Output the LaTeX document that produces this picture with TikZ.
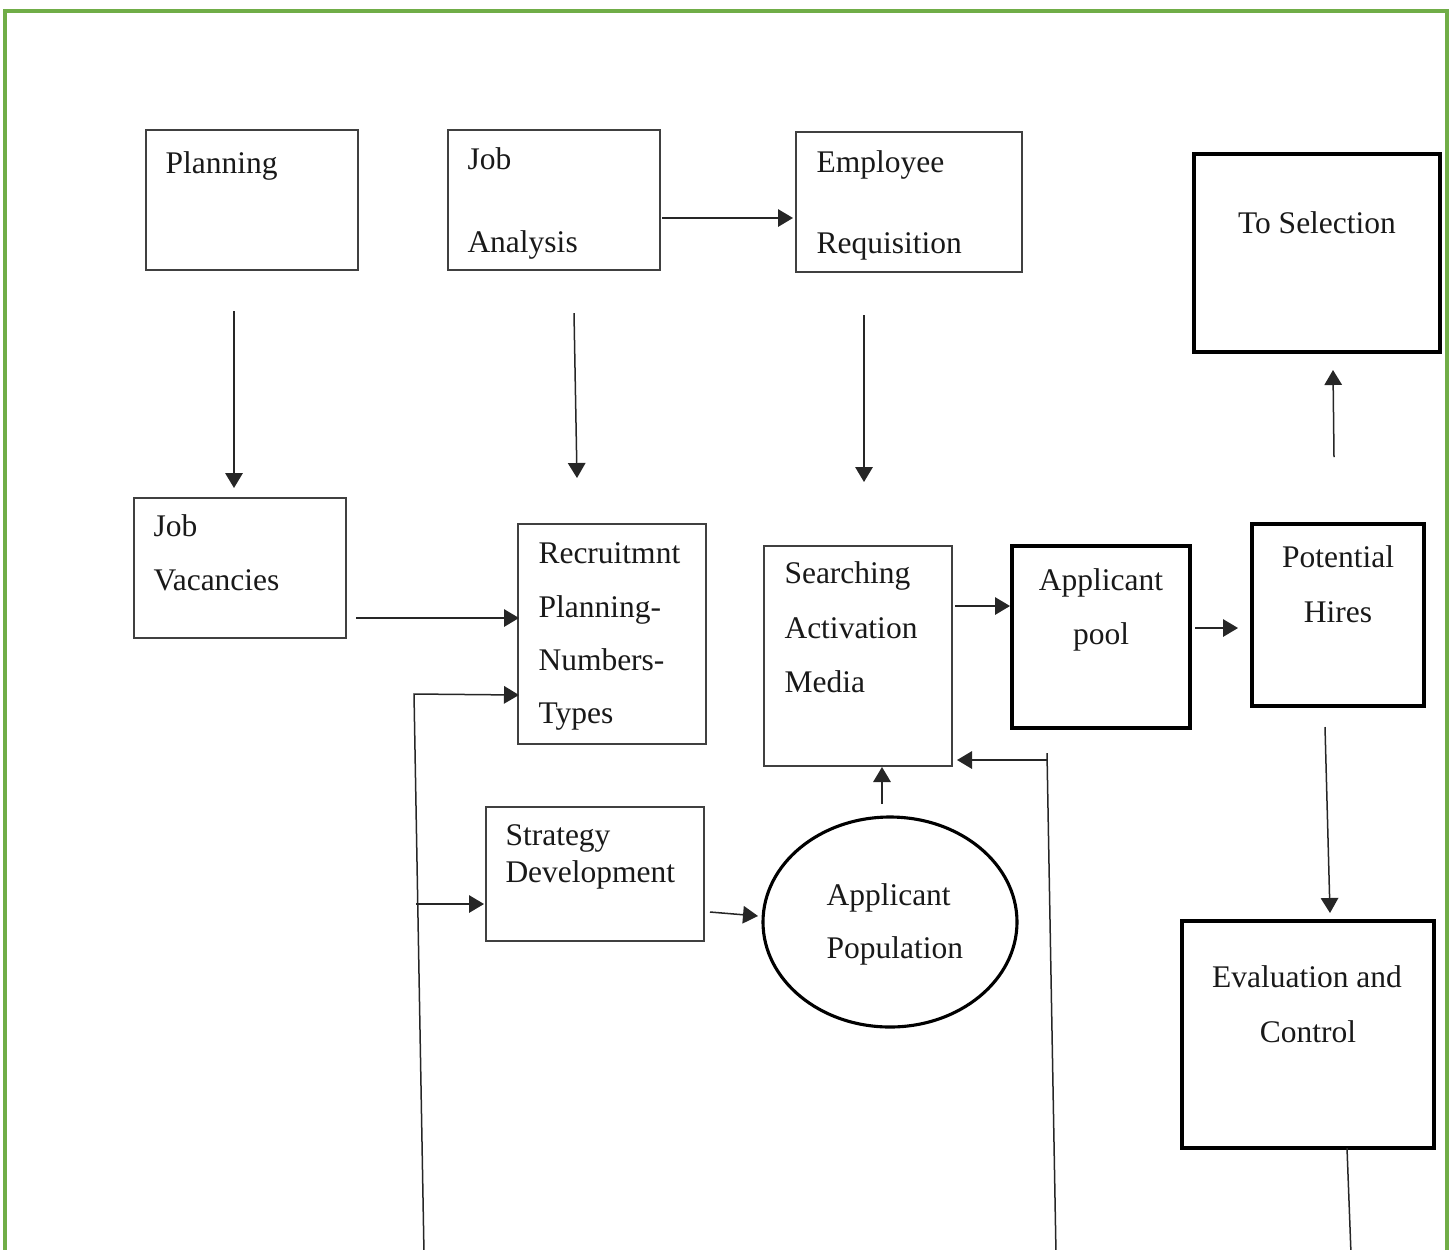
\documentclass[tikz,border=0pt]{standalone}
\usepackage{fontspec}
\setmainfont{Liberation Serif}
\usetikzlibrary{arrows.meta,fit,shapes.geometric}
\definecolor{framegreen}{HTML}{70AD47}
\definecolor{boxgray}{HTML}{404040}
\begin{document}
\begin{tikzpicture}[x=0.4pt,y=-0.4pt,
  box/.style={draw=boxgray,line width=0.55pt,inner sep=0pt},
  heavybox/.style={draw=black,line width=1.25pt,inner sep=0pt},
  txt/.style={inner sep=0pt,anchor=base west,font=\fontsize{12.6}{15}\selectfont,text=black!90},
  ctxt/.style={txt,anchor=base},
  link/.style={draw=black!85,line width=0.6pt},
  arr/.style={link,-{Triangle[length=6pt,width=7pt]}},
  frame/.style={draw=framegreen,line width=1.3pt}]
\useasboundingbox (0,0) rectangle (1453,1249);

% outer green frame, open at the bottom
\draw[frame] (5,1254) -- (5,11) -- (1447,11) -- (1447,1254);

% boxes
\node[box,fit={(146,130)(358,270)}] (plan) {};
\node[box,fit={(448,130)(660,270)}] (jobana) {};
\node[box,fit={(796,132)(1022,272)}] (empreq) {};
\node[heavybox,fit={(1194,154)(1440,352)}] (tosel) {};
\node[box,fit={(134,498)(346,638)}] (vac) {};
\node[box,fit={(518,524)(706,744)}] (rplan) {};
\node[box,fit={(764,546)(952,766)}] (search) {};
\node[heavybox,fit={(1012,546)(1190,728)}] (pool) {};
\node[heavybox,fit={(1252,524)(1424,706)}] (hires) {};
\node[box,fit={(486,807)(704,941)}] (strat) {};
\node[heavybox,ellipse,minimum width=254*0.4pt,minimum height=210*0.4pt] (popul) at (890,922) {};
\node[heavybox,fit={(1182,921)(1434,1148)}] (evalc) {};

% labels
\node[txt] (t-plan) at (165,173) {Planning};
\node[txt] (t-job1) at (467,169) {Job};
\node[txt] (t-job2) at (467,252) {Analysis};
\node[txt] (t-emp1) at (816,172) {Employee};
\node[txt] (t-emp2) at (816,253) {Requisition};
\node[ctxt] (t-sel) at (1317,233) {To Selection};
\node[txt] (t-vac1) at (153,536) {Job};
\node[txt] (t-vac2) at (153,590) {Vacancies};
\node[txt] (t-rp1) at (538,563) {Recruitmnt};
\node[txt] (t-rp2) at (538,617) {Planning-};
\node[txt] (t-rp3) at (538,670) {Numbers-};
\node[txt] (t-rp4) at (538,723) {Types};
\node[txt] (t-se1) at (784,583) {Searching};
\node[txt] (t-se2) at (784,638) {Activation};
\node[txt] (t-se3) at (784,692) {Media};
\node[ctxt] (t-po1) at (1101,590) {Applicant};
\node[ctxt] (t-po2) at (1101,644) {pool};
\node[ctxt] (t-hi1) at (1338,567) {Potential};
\node[ctxt] (t-hi2) at (1338,622) {Hires};
\node[txt] (t-st1) at (505,845) {Strategy};
\node[txt] (t-st2) at (505,882) {Development};
\node[txt] (t-ap1) at (826,905) {Applicant};
\node[txt] (t-ap2) at (826,958) {Population};
\node[ctxt] (t-ev1) at (1307,987) {Evaluation and};
\node[ctxt] (t-ev2) at (1308,1042) {Control};

% free ends of the connectors
\coordinate (c1a) at (234,311);  \coordinate (c1b) at (234,488);
\coordinate (c2a) at (574,313);  \coordinate (c2b) at (577,478);
\coordinate (c3a) at (864,315);  \coordinate (c3b) at (864,482);
\coordinate (c4a) at (662,218);  \coordinate (c4b) at (793,218);
\coordinate (c5a) at (356,618);  \coordinate (c5b) at (519,618);
\coordinate (f1bot) at (424,1254); \coordinate (f1top) at (414,694);
\coordinate (f1end) at (519,695);
\coordinate (f1mid) at (416,904); \coordinate (f1str) at (484,904);
\coordinate (c7a) at (710,912);  \coordinate (c7b) at (758,916);
\coordinate (c8a) at (882,804);  \coordinate (c8b) at (882,767);
\coordinate (f2bot) at (1056,1254); \coordinate (f2top) at (1047,753);
\coordinate (f2turn) at (1047,760); \coordinate (f2end) at (957,760);
\coordinate (c10a) at (955,606); \coordinate (c10b) at (1010,606);
\coordinate (c11a) at (1195,628); \coordinate (c11b) at (1238,628);
\coordinate (c12a) at (1325,727); \coordinate (c12b) at (1330,913);
\coordinate (c13a) at (1334,457); \coordinate (c13b) at (1333,370);
\coordinate (c14a) at (1347,1148); \coordinate (c14b) at (1351,1254);

% connectors
\draw[arr] (c1a) -- (c1b);
\draw[arr] (c2a) -- (c2b);
\draw[arr] (c3a) -- (c3b);
\draw[arr] (c4a) -- (c4b);
\draw[arr] (c5a) -- (c5b);
\draw[arr] (f1bot) -- (f1top) -- (f1end);
\draw[arr] (f1mid) -- (f1str);
\draw[arr] (c7a) -- (c7b);
\draw[arr] (c8a) -- (c8b);
\draw[link] (f2bot) -- (f2top);
\draw[arr] (f2turn) -- (f2end);
\draw[arr] (c10a) -- (c10b);
\draw[arr] (c11a) -- (c11b);
\draw[arr] (c12a) -- (c12b);
\draw[arr] (c13a) -- (c13b);
\draw[link] (c14a) -- (c14b);
\end{tikzpicture}
\end{document}
